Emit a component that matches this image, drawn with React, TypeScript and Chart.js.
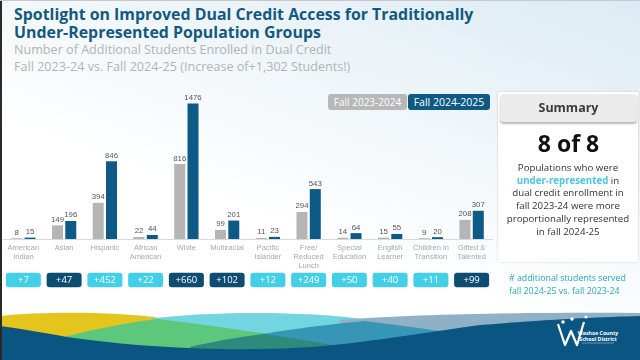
import React, { useEffect, useRef } from "react";
import { Chart, registerables } from "chart.js";

Chart.register(...registerables);

// ---- data ----
const categories: (string | string[])[] = [
  ["American", "Indian"],
  "Asian",
  "Hispanic",
  ["African", "American"],
  "White",
  "Multiracial",
  ["Pacific", "Islander"],
  ["Free/", "Reduced", "Lunch"],
  ["Special", "Education"],
  ["English", "Learner"],
  ["Children in", "Transition"],
  ["Gifted &", "Talented"],
];
const fall2023 = [8, 149, 394, 22, 816, 99, 11, 294, 14, 15, 9, 208];
const fall2024 = [15, 196, 846, 44, 1476, 201, 23, 543, 64, 55, 20, 307];
const increases = [7, 47, 452, 22, 660, 102, 12, 249, 50, 40, 11, 99];
const emphasized = [false, true, false, false, true, true, false, false, false, false, false, true];
const seriesNames = ["Fall 2023-2024", "Fall 2024-2025"];

const GRAY = "#b5b5b5";
const BLUE = "#0e5a86";
const CYAN = "#44cfe8";
const DARK = "#0d4d72";

const labelPlugin = {
  id: "valueLabels",
  afterDatasetsDraw(chart: any) {
    const ctx = chart.ctx;
    ctx.save();
    ctx.font = "7.8px 'Liberation Sans', Arial, sans-serif";
    ctx.fillStyle = "#555555";
    ctx.textAlign = "center";
    ctx.textBaseline = "alphabetic";
    chart.data.datasets.forEach((ds: any, di: number) => {
      const meta = chart.getDatasetMeta(di);
      meta.data.forEach((bar: any, i: number) => {
        ctx.fillText(String(ds.data[i]), bar.x, bar.y - 3.5);
      });
    });
    // increase boxes under each category
    const xs = chart.scales.x;
    const top = chart.chartArea.bottom + 33.7;
    increases.forEach((v, i) => {
      const cx = xs.getPixelForValue(i);
      ctx.fillStyle = emphasized[i] ? DARK : CYAN;
      ctx.beginPath();
      ctx.roundRect(cx - 17.5, top, 35, 14.6, 3);
      ctx.fill();
      ctx.fillStyle = "#ffffff";
      ctx.font = "9.5px 'Open Sans', sans-serif";
      ctx.textBaseline = "middle";
      ctx.fillText("+" + v, cx, top + 7.6);
    });
    ctx.restore();
  },
};

function BarChart() {
  const ref = useRef<HTMLCanvasElement | null>(null);
  useEffect(() => {
    if (!ref.current) return;
    const chart = new Chart(ref.current, {
      type: "bar",
      data: {
        labels: categories,
        datasets: [
          {
            label: seriesNames[0],
            data: fall2023,
            backgroundColor: GRAY,
            categoryPercentage: 0.653,
            barPercentage: 0.827,
          },
          {
            label: seriesNames[1],
            data: fall2024,
            backgroundColor: BLUE,
            categoryPercentage: 0.653,
            barPercentage: 0.827,
          },
        ],
      },
      options: {
        animation: false,
        responsive: false,
        maintainAspectRatio: false,
        layout: { padding: { top: 12, left: 3, right: 4, bottom: 0 } },
        plugins: { legend: { display: false }, tooltip: { enabled: false } },
        scales: {
          x: {
            grid: { display: false, drawTicks: false },
            border: { display: true, color: "#d9d9d9", width: 1 },
            ticks: {
              color: "#a8a8a8",
              font: { family: "'Liberation Sans', Arial, sans-serif", size: 7.5, lineHeight: 1.2 },
              padding: 4,
              maxRotation: 0,
              autoSkip: false,
            },
            afterFit: (s: any) => {
              s.height = 61;
            },
          },
          y: { display: false, min: 0, max: 1600 },
        },
      },
      plugins: [labelPlugin],
    });
    return () => chart.destroy();
  }, []);
  return (
    <canvas
      ref={ref}
      width={496}
      height={220}
      style={{ position: "absolute", left: 0, top: 80, width: 496, height: 220 }}
    />
  );
}

const abs = (o: React.CSSProperties): React.CSSProperties => ({ position: "absolute", whiteSpace: "nowrap", ...o });

export default function App() {
  return (
    <div
      style={{
        position: "fixed",
        left: 0,
        top: 0,
        width: 640,
        height: 360,
        overflow: "hidden",
        background: "linear-gradient(200deg, #dcebf4 0%, #eef5f9 30%, #ffffff 60%)",
        fontFamily: "'Open Sans', sans-serif",
      }}
    >
      {/* title */}
      <div style={abs({ left: 14, top: 7, fontSize: 15.9, fontWeight: 700, color: "#135a80", lineHeight: 1 })}>
        Spotlight on Improved Dual Credit Access for Traditionally
      </div>
      <div style={abs({ left: 14, top: 25, fontSize: 15.9, fontWeight: 700, color: "#135a80", lineHeight: 1 })}>
        Under-Represented Population Groups
      </div>
      <div style={abs({ left: 14, top: 44, fontSize: 12.6, color: "#b3b3b3", lineHeight: 1 })}>
        Number of Additional Students Enrolled in Dual Credit
      </div>
      <div style={abs({ left: 14, top: 61, fontSize: 12.6, color: "#b3b3b3", lineHeight: 1 })}>
        Fall 2023-24 vs. Fall 2024-25 (Increase of+1,302 Students!)
      </div>

      <BarChart />

      {/* legend */}
      <div
        style={abs({
          left: 328, top: 94, width: 79, height: 16, background: "#b8b8b8", borderRadius: 3,
          color: "#fff", fontSize: 10, lineHeight: "16px", textAlign: "center",
        })}
      >
        {seriesNames[0]}
      </div>
      <div
        style={abs({
          left: 408, top: 94, width: 82, height: 16, background: "#0d5a84", borderRadius: 3,
          color: "#fff", fontSize: 10.5, lineHeight: "16px", textAlign: "center",
        })}
      >
        {seriesNames[1]}
      </div>

      {/* summary panel */}
      <div style={abs({ left: 498, top: 92, width: 140, height: 170, background: "#ffffff", boxShadow: "0 0 2px rgba(0,0,0,0.18)" })} />
      <div
        style={abs({
          left: 500, top: 94, width: 137, height: 28, background: "#ebebeb", borderRadius: 4,
          boxShadow: "0 2px 2px rgba(0,0,0,0.28)", textAlign: "center", lineHeight: "28px",
          fontSize: 12.5, fontWeight: 700, color: "#3a3a3a",
        })}
      >
        Summary
      </div>
      <div style={abs({ left: 500, width: 137, top: 132, textAlign: "center", fontSize: 23, fontWeight: 700, color: "#111", lineHeight: 1 })}>
        8 of 8
      </div>
      <div
        style={abs({
          left: 498, width: 140, top: 162, textAlign: "center", fontSize: 9.7, color: "#333",
          lineHeight: "12.7px",
        })}
      >
        Populations who were
        <br />
        <span style={{ color: "#4cc6df", fontWeight: 700 }}>under-represented</span> in
        <br />
        dual credit enrollment in
        <br />
        fall 2023-24 were more
        <br />
        proportionally represented
        <br />
        in fall 2024-25
      </div>

      {/* note */}
      <div style={abs({ left: 509, top: 272, fontSize: 8.8, color: "#2ba6c2", lineHeight: "13px" })}>
        # additional students served
        <br />
        fall 2024-25 vs. fall 2023-24
      </div>

      {/* footer waves */}
      <svg width={640} height={60} viewBox="0 0 640 60" style={{ position: "absolute", left: 0, top: 300 }}>
        <path d="M0,16 C40,12 110,11 160,18 L200,40 L0,40 Z" fill="#e3c51d" />
        <path d="M150,19 C200,12 300,10 370,20 L370,40 L150,40 Z" fill="#72d5df" />
        <path d="M340,20 C420,14 540,12 640,13 L640,45 L340,45 Z" fill="#8fb1c6" />
        <path d="M60,38 C90,30 130,22 158,19 C200,24 240,30 268,34 L260,52 L60,52 Z" fill="#5dc77c" />
        <path d="M262,34 C300,28 340,23 365,21 C390,24 420,28 445,32 L445,50 L262,50 Z" fill="#3796b6" />
        <path d="M190,47 C220,40 245,36 265,34 C290,38 315,42 340,46 L340,55 L190,55 Z" fill="#2e8b7b" />
        <path
          d="M0,26 C30,30 50,34 67,37 C110,43 160,48 220,49 C280,50 320,47 360,42 C400,37 430,32 480,25 C540,20 600,17 640,16 L640,60 L0,60 Z"
          fill="#0b5582"
        />
        {/* logo */}
        <path d="M558,24 L565,45 L571,31 L577,45 L584,22" stroke="#fff" strokeWidth={2.2} fill="none" strokeLinejoin="round" />
        <circle cx={563} cy={22} r={1.8} fill="#fff" />
        <circle cx={572} cy={19} r={1.8} fill="#fff" />
        <circle cx={586} cy={17} r={1.6} fill="#fff" />
        <text x={598} y={35} fill="#fff" fontSize={5.2} fontWeight={700} textAnchor="middle" fontFamily="'Open Sans', sans-serif">
          Washoe County
        </text>
        <text x={598} y={41} fill="#fff" fontSize={5.2} fontWeight={700} textAnchor="middle" fontFamily="'Open Sans', sans-serif">
          School District
        </text>
        <line x1={582} y1={43} x2={614} y2={43} stroke="#fff" strokeWidth={0.4} />
      </svg>

      {/* frame edges */}
      <div style={abs({ left: 0, top: 0, width: 2, height: 360, background: "#2a2a2a" })} />
      <div style={abs({ left: 0, top: 0, width: 640, height: 1, background: "#c8c8c8" })} />
    </div>
  );
}
